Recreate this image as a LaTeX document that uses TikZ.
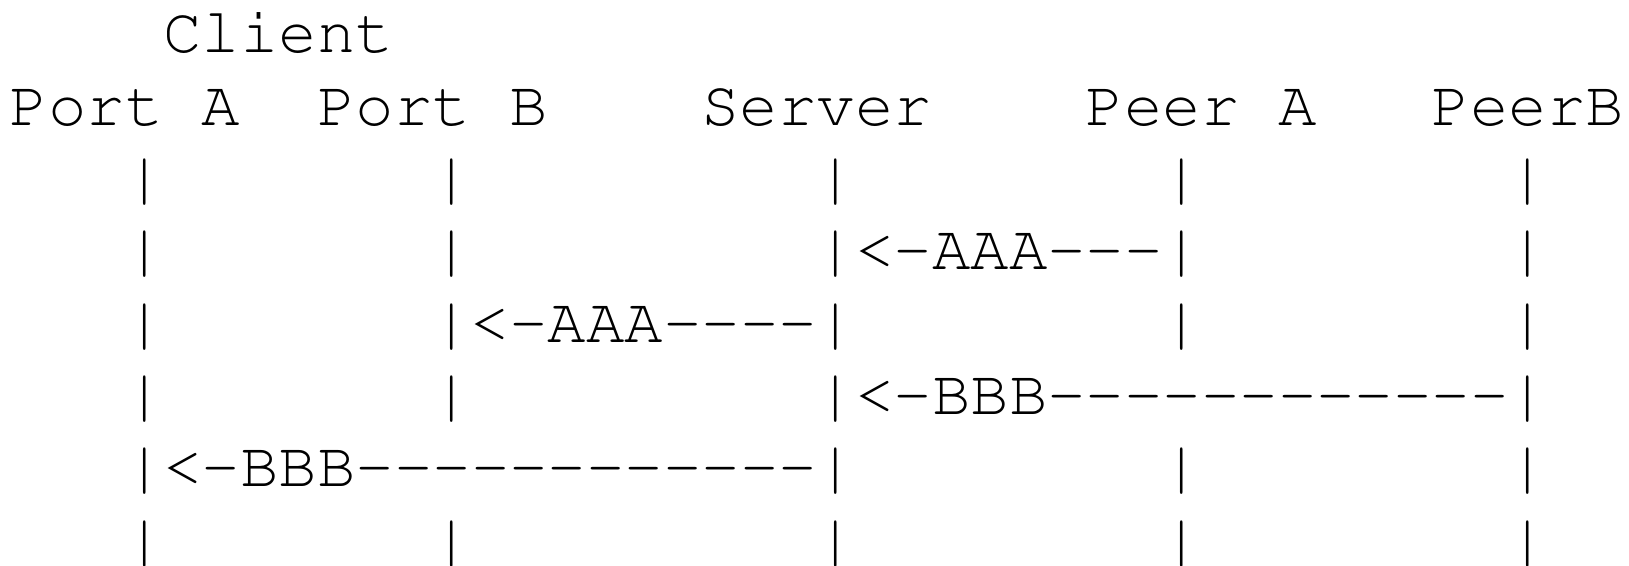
\documentclass[tikz,border=0pt]{standalone}
\usepackage[T1]{fontenc}
\begin{document}
\begin{tikzpicture}[x=0.5pt,y=-0.5pt,
  mono/.style={anchor=base west,inner sep=0pt,outer sep=0pt,
    font=\fontfamily{pcr}\fontseries{m}\selectfont\fontsize{32.03pt}{36pt}\selectfont}]
\useasboundingbox (0,0) rectangle (1629,566);
\newcommand\cell[4]{\node[mono] (#1) at ({9.8+#2*38.43},{53+#3*72.3}) {#4};}
% header
\cell{client}{4}{0}{Client}
\cell{porta}{0}{1}{Port A}
\cell{portb}{8}{1}{Port B}
\cell{server}{18}{1}{Server}
\cell{peera}{28}{1}{Peer A}
\cell{peerb}{37}{1}{PeerB}
% row 2
\cell{a2}{3}{2}{|}\cell{b2}{11}{2}{|}\cell{s2}{21}{2}{|}\cell{pa2}{30}{2}{|}\cell{pb2}{39}{2}{|}
% row 3
\cell{a3}{3}{3}{|}\cell{b3}{11}{3}{|}\cell{m3}{21}{3}{|<-AAA-{}-{}-|}\cell{pb3}{39}{3}{|}
% row 4
\cell{a4}{3}{4}{|}\cell{m4}{11}{4}{|<-AAA-{}-{}-{}-|}\cell{pa4}{30}{4}{|}\cell{pb4}{39}{4}{|}
% row 5
\cell{a5}{3}{5}{|}\cell{b5}{11}{5}{|}\cell{m5}{21}{5}{|<-BBB-{}-{}-{}-{}-{}-{}-{}-{}-{}-{}-{}-|}
% row 6
\cell{m6}{3}{6}{|<-BBB-{}-{}-{}-{}-{}-{}-{}-{}-{}-{}-{}-|}\cell{pa6}{30}{6}{|}\cell{pb6}{39}{6}{|}
% row 7
\cell{a7}{3}{7}{|}\cell{b7}{11}{7}{|}\cell{s7}{21}{7}{|}\cell{pa7}{30}{7}{|}\cell{pb7}{39}{7}{|}
\end{tikzpicture}
\end{document}
